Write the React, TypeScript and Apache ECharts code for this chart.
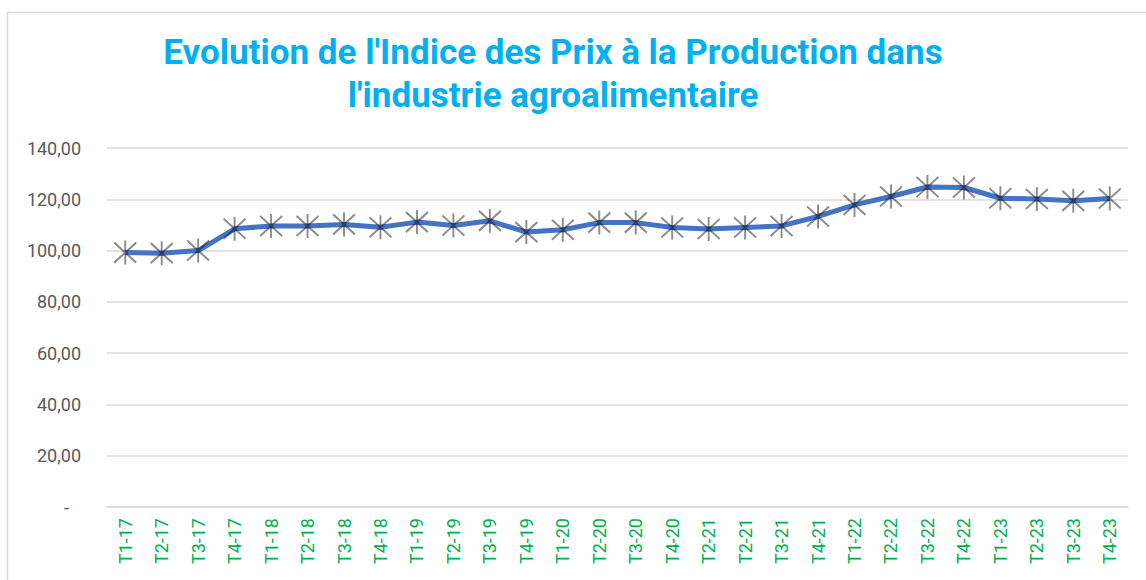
import React, { useEffect, useRef } from "react";
import * as echarts from "echarts";

const categories = [
  "T1-17", "T2-17", "T3-17", "T4-17",
  "T1-18", "T2-18", "T3-18", "T4-18",
  "T1-19", "T2-19", "T3-19", "T4-19",
  "T1-20", "T2-20", "T3-20", "T4-20",
  "T2-21", "T2-21", "T3-21", "T4-21",
  "T1-22", "T2-22", "T3-22", "T4-22",
  "T1-23", "T2-23", "T3-23", "T4-23",
];

const ipiValues = [
  99.2, 99.0, 100.0, 108.5,
  109.6, 109.6, 110.2, 109.1,
  111.1, 109.8, 111.6, 107.2,
  108.1, 110.9, 110.9, 109.0,
  108.4, 109.0, 109.6, 113.3,
  117.8, 121.1, 124.8, 124.6,
  120.4, 120.1, 119.4, 120.3,
];

const titleText = "Evolution de l'Indice des Prix à la Production dans\nl'industrie agroalimentaire";

export default function App() {
  const ref = useRef<HTMLDivElement>(null);
  useEffect(() => {
    if (!ref.current) return;
    const chart = echarts.init(ref.current, null, { renderer: "svg" });
    chart.setOption({
      animation: false,
      backgroundColor: "#ffffff",
      title: {
        text: titleText,
        left: 548,
        top: 26,
        textAlign: "center",
        textStyle: {
          fontFamily: "Roboto",
          fontWeight: "bold",
          fontSize: 35,
          lineHeight: 43,
          color: "#00b0f0",
        },
      },
      graphic: [
        {
          type: "rect",
          shape: { x: 7.5, y: 12.5, width: 1300, height: 800 },
          style: { fill: "none", stroke: "#d9d9d9", lineWidth: 1.5 },
          silent: true,
        },
      ],
      grid: { left: 107, right: 18, top: 148, bottom: 73, containLabel: false },
      xAxis: {
        type: "category",
        data: categories,
        boundaryGap: true,
        axisLine: { show: true, lineStyle: { color: "#d9d9d9", width: 1.5 } },
        axisTick: { show: false },
        axisLabel: {
          rotate: 90,
          interval: 0,
          margin: 11,
          color: "#00b050",
          fontFamily: "Roboto",
          fontSize: 18,
        },
      },
      yAxis: {
        type: "value",
        min: 0,
        max: 140,
        interval: 20,
        axisLine: { show: false },
        axisTick: { show: false },
        splitLine: { lineStyle: { color: "#d9d9d9", width: 1.5 } },
        axisLabel: {
          margin: 26,
          color: "#595959",
          fontFamily: "Roboto",
          fontSize: 18,
          formatter: (v: number) =>
            v === 0 ? "{d|-}" : v.toFixed(2).replace(".", ","),
          rich: {
            d: { padding: [0, 12, 0, 0], color: "#595959", fontSize: 18, fontFamily: "Roboto" },
          },
        },
      },
      series: [
        {
          type: "line",
          data: ipiValues,
          lineStyle: { color: "#4472c4", width: 5 },
          symbol: "path://M0,0L10,10M10,0L0,10M5,-1L5,11",
          symbolSize: [22, 24],
          showSymbol: true,
          itemStyle: {
            color: "rgba(0,0,0,0)",
            borderColor: "rgba(0,0,0,0.45)",
            borderWidth: 2,
          },
          z: 2,
        },
      ],
    });
    return () => chart.dispose();
  }, []);
  return (
    <div
      ref={ref}
      style={{ position: "absolute", left: 0, top: 0, width: 1146, height: 580 }}
    />
  );
}
